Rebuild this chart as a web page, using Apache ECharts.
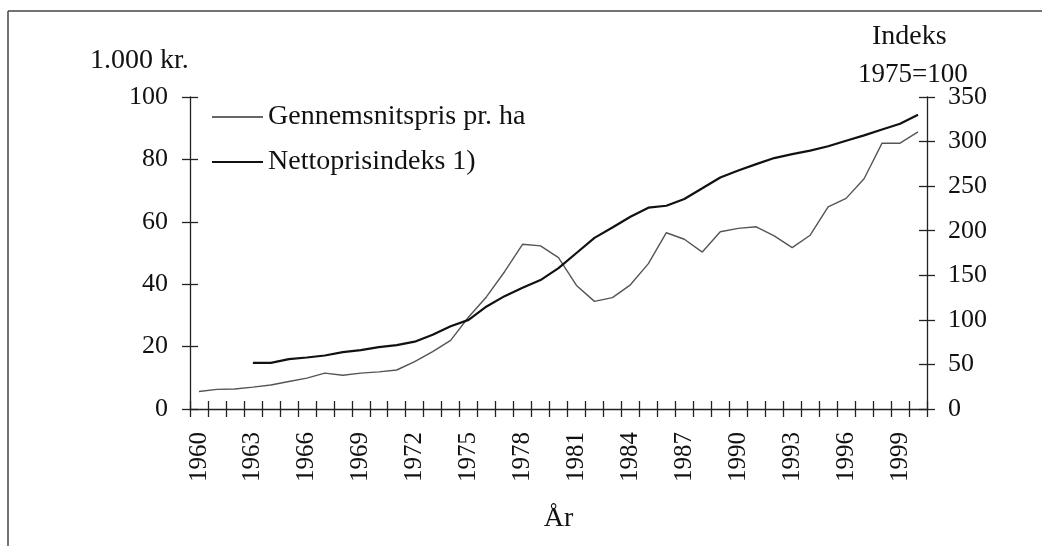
<!DOCTYPE html>
<html>
<head>
<meta charset="utf-8">
<script src="https://cdn.jsdelivr.net/npm/echarts@6/dist/echarts.min.js"></script>
<style>
  html, body { margin: 0; padding: 0; background: #fff; }
  #chart { width: 1042px; height: 546px; }
</style>
</head>
<body>
<div id="chart"></div>
<script>
// Årstal (kategorier)
var aar = ['1960', '1961', '1962', '1963', '1964', '1965', '1966', '1967', '1968', '1969',
  '1970', '1971', '1972', '1973', '1974', '1975', '1976', '1977', '1978', '1979',
  '1980', '1981', '1982', '1983', '1984', '1985', '1986', '1987', '1988', '1989',
  '1990', '1991', '1992', '1993', '1994', '1995', '1996', '1997', '1998', '1999', '2000'];

// Gennemsnitspris pr. ha, 1.000 kr. (venstre akse)
var gennemsnitspris = [5.6, 6.3, 6.4, 7.0, 7.7, 8.8, 9.9, 11.5, 10.8, 11.5,
  11.9, 12.5, 15.2, 18.4, 22.0, 29.5, 36, 44, 52.8, 52.3,
  48.5, 39.6, 34.5, 35.7, 39.8, 46.6, 56.5, 54.4, 50.3, 56.8,
  57.9, 58.4, 55.5, 51.7, 55.7, 64.8, 67.5, 73.8, 85.2, 85.2, 88.8];

// Nettoprisindeks, 1975=100 (højre akse), starter 1963
var nettoprisindeks = [null, null, null, 51.8, 51.8, 56, 57.8, 60, 63.8, 66,
  69.5, 71.7, 75.5, 83.4, 92.8, 100, 115, 126.6, 136, 144.6,
  158, 175, 192, 203.6, 215.6, 225.8, 228, 235.6, 247.6, 259.7,
  267.6, 274.7, 281.5, 286, 289.8, 294.7, 301, 307, 313.5, 320, 330];

var serifFont = '"Liberation Serif", "DejaVu Serif", serif';
var ink = '#222';

var chart = echarts.init(document.getElementById('chart'));

// akser med ticks der krydser aksen: en udvendig + en indvendig kopi
function yAkse(pos, max, interval, inside) {
  return {
    type: 'value',
    position: pos,
    min: 0,
    max: max,
    interval: interval,
    splitLine: { show: false },
    axisLine: { show: !inside, lineStyle: { color: ink, width: 1.3 } },
    axisTick: { show: true, inside: inside, length: 8, lineStyle: { color: ink, width: 1.3 } },
    axisLabel: {
      show: !inside,
      margin: pos == 'left' ? 22 : 21,
      color: '#111',
      fontFamily: serifFont,
      fontSize: 26
    }
  };
}

function xAkse(inside) {
  return {
    type: 'category',
    position: 'bottom',
    data: aar,
    boundaryGap: true,
    name: inside ? '' : 'År',
    nameLocation: 'middle',
    nameGap: 96,
    nameTextStyle: { color: '#111', fontFamily: serifFont, fontSize: 28 },
    axisLine: { show: !inside, lineStyle: { color: ink, width: 1.3 } },
    axisTick: { show: true, inside: inside, interval: 0, length: 8, lineStyle: { color: ink, width: 1.3 } },
    axisLabel: {
      show: !inside,
      interval: 2,
      rotate: 90,
      margin: 23,
      color: '#111',
      fontFamily: serifFont,
      fontSize: 25
    }
  };
}

var option = {
  backgroundColor: '#fff',
  animation: false,
  grid: { left: 190, right: 115, top: 97, bottom: 137 },
  legend: {
    left: 207,
    top: 98,
    orient: 'vertical',
    icon: 'rect',
    itemWidth: 51,
    itemHeight: 2,
    itemGap: 17,
    textStyle: { color: '#111', fontFamily: serifFont, fontSize: 28 },
    data: ['Gennemsnitspris pr. ha', 'Nettoprisindeks 1)']
  },
  xAxis: [xAkse(false), xAkse(true)],
  yAxis: [
    yAkse('left', 100, 20, false),
    yAkse('right', 350, 50, false),
    yAkse('left', 100, 20, true),
    yAkse('right', 350, 50, true)
  ],
  graphic: [
    { type: 'line', shape: { x1: 8, y1: 11, x2: 1042, y2: 11 }, style: { stroke: '#444', lineWidth: 1.5 } },
    { type: 'line', shape: { x1: 8, y1: 11, x2: 8, y2: 546 }, style: { stroke: '#444', lineWidth: 1.5 } },
    {
      type: 'text', left: 90, top: 47,
      style: { text: '1.000 kr.', fill: '#111', font: '28px ' + serifFont }
    },
    {
      type: 'text', left: 872, top: 23,
      style: { text: 'Indeks', fill: '#111', font: '28px ' + serifFont }
    },
    {
      type: 'text', left: 858, top: 61,
      style: { text: '1975=100', fill: '#111', font: '27px ' + serifFont }
    }
  ],
  series: [
    {
      name: 'Gennemsnitspris pr. ha',
      type: 'line',
      xAxisIndex: 0,
      yAxisIndex: 0,
      data: gennemsnitspris,
      symbol: 'none',
      lineStyle: { color: '#555', width: 1.4 },
      itemStyle: { color: '#666' }
    },
    {
      name: 'Nettoprisindeks 1)',
      type: 'line',
      xAxisIndex: 0,
      yAxisIndex: 1,
      data: nettoprisindeks,
      symbol: 'none',
      lineStyle: { color: '#111', width: 2.2 },
      itemStyle: { color: '#111' }
    }
  ]
};

chart.setOption(option);
</script>
</body>
</html>
